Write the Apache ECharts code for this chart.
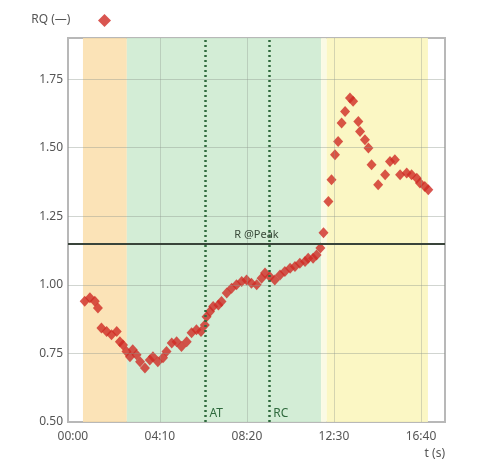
<!DOCTYPE html>
<html>
<head>
<meta charset="utf-8">
<script src="https://cdn.jsdelivr.net/npm/echarts@6/dist/echarts.min.js"></script>
<style>html,body{margin:0;padding:0;background:#fff;}#c{width:489px;height:468px;}</style>
</head>
<body>
<div id="c"></div>
<script>
// ---- data ----
const timeSec = [34, 49, 63, 72, 82, 97, 111, 126, 135, 144, 154, 164, 172, 183, 193, 207, 221, 230, 244, 259, 269, 284, 298, 312, 327, 341, 355, 368, 379, 384, 394, 403, 418, 427, 442, 456, 470, 485, 499, 513, 528, 542, 552, 566, 580, 595, 609, 624, 638, 652, 667, 676, 690, 700, 711, 720, 734, 743, 753, 762, 772, 782, 796, 805, 820, 825, 839, 849, 858, 877, 897, 911, 925, 940, 959, 973, 988, 997, 1011, 1021];
const rqValues = [0.94, 0.953, 0.94, 0.916, 0.843, 0.83, 0.818, 0.83, 0.793, 0.781, 0.757, 0.738, 0.763, 0.745, 0.72, 0.697, 0.726, 0.738, 0.72, 0.734, 0.757, 0.788, 0.793, 0.775, 0.793, 0.825, 0.836, 0.83, 0.854, 0.884, 0.903, 0.921, 0.927, 0.939, 0.97, 0.988, 1.0, 1.012, 1.018, 1.006, 1.0, 1.024, 1.043, 1.03, 1.018, 1.036, 1.049, 1.061, 1.067, 1.079, 1.085, 1.097, 1.097, 1.109, 1.134, 1.19, 1.304, 1.383, 1.474, 1.523, 1.59, 1.632, 1.681, 1.669, 1.596, 1.559, 1.529, 1.499, 1.438, 1.365, 1.401, 1.45, 1.456, 1.401, 1.408, 1.401, 1.389, 1.371, 1.359, 1.347];
const xTicks = [0, 250, 500, 750, 1000];
const xGridTicks = [250, 500, 750, 1000];
const yTicks = [0.75, 1.0, 1.25, 1.5, 1.75];
const phaseBands = [
  {from: 29, to: 155, color: 'rgba(250,222,170,0.85)'},
  {from: 155, to: 713, color: 'rgba(206,235,210,0.9)'},
  {from: 713, to: 729, color: 'rgba(250,250,225,0.9)'},
  {from: 729, to: 1020, color: 'rgba(251,246,190,0.9)'}
];
const thresholds = [{name: 'AT', t: 381}, {name: 'RC', t: 564}];
const peakR = 1.15;
const seriesName = 'RQ (—)';

function fmtTime(v) {
  const m = Math.floor(v / 60), s = Math.round(v % 60);
  return String(m).padStart(2, '0') + ':' + String(s).padStart(2, '0');
}

const font = 'Noto Sans';
const chart = echarts.init(document.getElementById('c'));
chart.setOption({
  animation: false,
  textStyle: {fontFamily: font},
  grid: {left: 68, right: 44, top: 38, bottom: 46, show: true, borderColor: '#b8b8b8', borderWidth: 2, backgroundColor: 'transparent'},
  legend: {
    left: 98, top: 14, padding: 0, itemWidth: 13, itemHeight: 13, itemGap: 0,
    data: [{name: seriesName, icon: 'diamond'}],
    formatter: () => '', selectedMode: false
  },
  xAxis: {
    type: 'value', min: -14, max: 1069,
    name: 't (s)', nameLocation: 'end', nameGap: 0,
    nameTextStyle: {align: 'right', verticalAlign: 'top', padding: [26, 0, 0, 0], fontSize: 12, color: '#555', fontFamily: font},
    axisLine: {show: false}, axisTick: {show: false}, splitLine: {show: false},
    axisLabel: {customValues: xTicks, formatter: fmtTime, fontSize: 12, color: '#555', margin: 9, fontFamily: font}
  },
  yAxis: {
    type: 'value', min: 0.5, max: 1.9, interval: 0.25,
    name: 'RQ (—)', nameLocation: 'end', nameGap: 18,
    nameTextStyle: {align: 'center', verticalAlign: 'middle', padding: [0, 44, 0, 0], fontSize: 12, color: '#555', fontFamily: font},
    axisLine: {show: false}, axisTick: {show: false}, splitLine: {show: false},
    axisLabel: {showMaxLabel: false, formatter: v => v.toFixed(2), fontSize: 12, color: '#555', margin: 5, fontFamily: font}
  },
  series: [
    {
      type: 'line', data: [], z: 1, silent: true,
      markArea: {
        silent: true,
        data: phaseBands.map(b => [{xAxis: b.from, itemStyle: {color: b.color}}, {xAxis: b.to}])
      }
    },
    {
      type: 'line', data: [], z: 2, silent: true,
      markLine: {
        silent: true, symbol: ['none', 'none'], animation: false,
        label: {show: false},
        data: [
          ...xGridTicks.map(v => ({xAxis: v, lineStyle: {color: 'rgba(140,150,140,0.35)', width: 1, type: 'solid'}})),
          ...yTicks.map(v => ({yAxis: v, lineStyle: {color: 'rgba(140,150,140,0.4)', width: 1, type: 'solid'}})),
          ...thresholds.map(th => ({xAxis: th.t, lineStyle: {color: '#2f6a3d', width: 2.5, type: [2, 3]}})),
          {yAxis: peakR, lineStyle: {color: '#39443a', width: 2, type: 'solid'},
           label: {show: true, position: 'middle', formatter: 'R @Peak', color: '#3a4a3a', fontSize: 11, distance: 3, fontFamily: font}}
        ]
      },
      markPoint: {
        silent: true, symbol: 'circle', symbolSize: 0,
        data: thresholds.map(th => ({
          coord: [th.t, 0.5],
          label: {show: true, formatter: th.name, position: 'insideBottomLeft', offset: [-1, 3], color: '#2f6a3d', fontSize: 12, fontFamily: font}
        }))
      }
    },
    {
      name: seriesName, type: 'scatter', z: 4,
      symbol: 'diamond', symbolSize: [10, 11],
      itemStyle: {color: '#cf2a24'},
      data: timeSec.map((t, i) => [t, rqValues[i]])
    }
  ]
});
</script>
</body>
</html>
